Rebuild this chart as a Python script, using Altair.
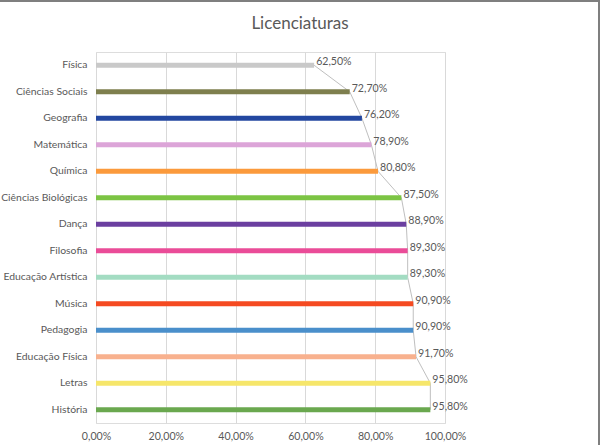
import altair as alt
import pandas as pd

# Course names, top to bottom
categories = [
    "Física", "Ciências Sociais", "Geografia", "Matemática", "Química",
    "Ciências Biológicas", "Dança", "Filosofia", "Educação Artística",
    "Música", "Pedagogia", "Educação Física", "Letras", "História",
]
# Percentage per course
values = [62.5, 72.7, 76.2, 78.9, 80.8, 87.5, 88.9, 89.3, 89.3, 90.9, 90.9, 91.7, 95.8, 95.8]
# One colour per bar
colors = [
    "#c9c9c9", "#7e7f4e", "#2347a0", "#dca5d8", "#fb9a3c",
    "#7cc444", "#6b3fa0", "#ea4c98", "#a3dcc2",
    "#f54a21", "#4a8fcb", "#f8b18e", "#f6e66a", "#6aa84f",
]
x_ticks = [0, 20, 40, 60, 80, 100]
chart_title = ["Licenciaturas"]

df = pd.DataFrame({
    "curso": categories,
    "pct": values,
    "cor": colors,
    "ordem": list(range(len(categories))),
})

FONT = "Lato"
TEXT = "#595959"
PT_FMT = "replace(format({v}, '.2f'), '.', ',') + '%'"

x_enc = alt.X(
    "pct:Q",
    title=None,
    scale=alt.Scale(domain=[0, 100], nice=False),
    axis=alt.Axis(
        values=x_ticks,
        labelExpr=PT_FMT.format(v="datum.value"),
        labelFlush=False,
        labelOverlap=False,
        grid=True,
        gridColor="#d9d9d9",
        gridWidth=1,
        domain=False,
        ticks=False,
        labelPadding=8,
        labelFont=FONT,
        labelFontSize=10.6,
        labelColor=TEXT,
    ),
)
y_enc = alt.Y(
    "curso:N",
    sort=categories,
    title=None,
    scale=alt.Scale(paddingInner=0, paddingOuter=0),
    axis=alt.Axis(
        domain=False,
        ticks=False,
        grid=False,
        labelPadding=9,
        labelFont=FONT,
        labelFontSize=10.4,
        labelColor=TEXT,
    ),
)

base = alt.Chart(df)

# Gray leader polyline through the bar ends
leader = base.mark_line(color="#bfbfbf", strokeWidth=1).encode(
    x=x_enc, y=y_enc, order=alt.Order("ordem:Q")
)

bars = base.mark_bar(size=5).encode(
    x=x_enc, y=y_enc, color=alt.Color("cor:N", scale=None)
)

labels = base.transform_calculate(
    rotulo=PT_FMT.format(v="datum.pct")
).mark_text(
    align="left", baseline="middle", dx=2, dy=-3,
    font=FONT, fontSize=10.6, color=TEXT,
).encode(x=x_enc, y=y_enc, text="rotulo:N")

# Chart title, centred on the whole chart area
title = alt.Chart(pd.DataFrame({"t": chart_title})).mark_text(
    align="center", baseline="alphabetic",
    font=FONT, fontSize=17, color=TEXT,
).encode(x=alt.value(204), y=alt.value(-23.5), text="t:N")

# Outer frame lines (top and right edge of the chart area)
frame_top = alt.Chart(df).mark_rule(color="#7f7f7f", strokeWidth=2).encode(
    x=alt.value(-96), x2=alt.value(504), y=alt.value(-51)
)
frame_right = alt.Chart(df).mark_rule(color="#7f7f7f", strokeWidth=2).encode(
    x=alt.value(503), y=alt.value(-52), y2=alt.value(393)
)

chart = alt.layer(leader, bars, labels, title, frame_top, frame_right).properties(
    width=349,
    height=371,
    autosize=alt.AutoSizeParams(type="none"),
    padding={"left": 96, "top": 52, "right": 155, "bottom": 22},
).configure_view(stroke=None).configure(background="white")

chart.save("out.html", embed_options={"renderer": "svg", "actions": False})
